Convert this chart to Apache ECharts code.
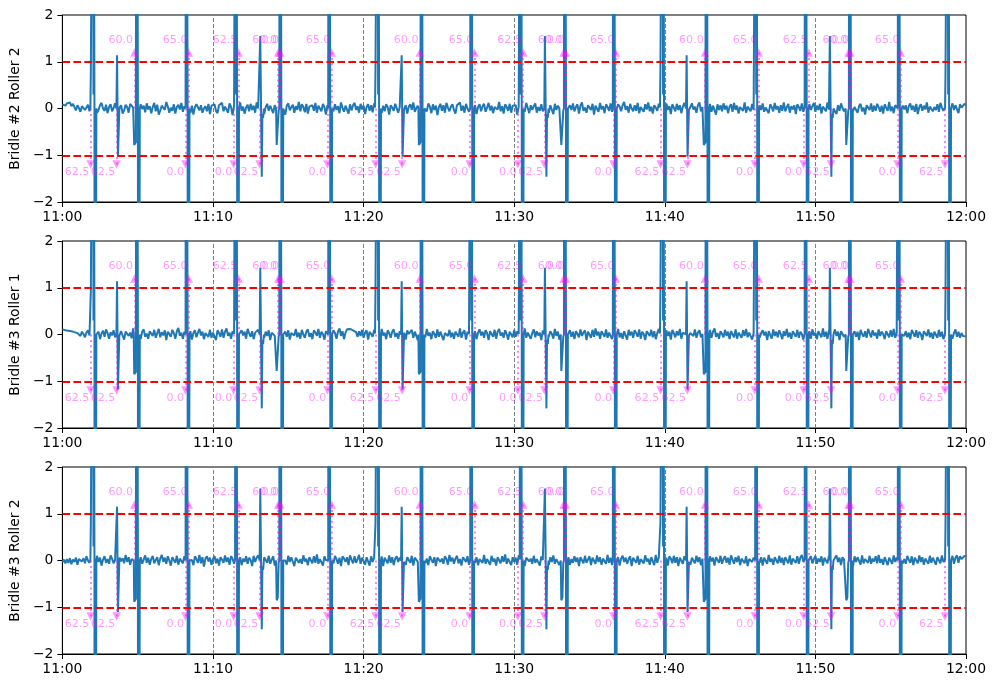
<!DOCTYPE html>
<html>
<head>
<meta charset="utf-8">
<script src="https://cdn.jsdelivr.net/npm/echarts@6/dist/echarts.min.js"></script>
<style>
html,body{margin:0;padding:0;background:#fff;}
#chart{width:996px;height:688px;}
</style>
</head>
<body>
<div id="chart"></div>
<script>
// ---------- DATA ----------
const panelNames = ['Bridle #2 Roller 2', 'Bridle #3 Roller 1', 'Bridle #3 Roller 2'];
const xTickLabels = ['11:00', '11:10', '11:20', '11:30', '11:40', '11:50', '12:00'];
const yTickLabels = ['\u22122', '\u22121', '0', '1', '2'];
const grayLineMinutes = [10, 20, 30, 40, 50];
const limitLines = [1, -1];

// baseline samples every 6 s (minute = index / 10)
const noiseB2R2 = [
.09,.12,.06,.11,.08,.13,.05,.1,.03,-.04,.07,.01,-.07,.05,.09,-.03,.02,.08,-.06,.04,
.1,-.02,.05,-.09,-.03,.07,.12,.0,-.05,.08,-.1,.03,.09,-.06,.01,.11,.04,-.08,.02,.07,
-.11,-.04,.08,.03,-.09,.1,.13,.02,-.06,.05,-.12,-.03,.09,-.01,.06,-.08,.11,-.02,.05,-.1,
.03,.12,-.06,.08,-.13,-.04,.06,.1,-.03,.14,.04,-.09,.02,-.05,.09,-.11,.03,.08,-.02,.12,
-.07,.05,-.03,.11,.01,-.1,.06,-.13,.03,.09,.13,-.04,.07,-.09,.0,.05,-.06,.1,-.12,.06,
.02,.09,-.05,-.1,.07,.03,.12,-.06,.04,-.02,-.09,.11,.03,-.14,.06,.09,-.03,.07,.13,-.05,
.04,-.11,.02,.08,-.06,.1,-.03,.06,-.09,.13,.0,-.07,.09,.04,-.12,.03,.1,-.05,.06,-.02,
-.1,.07,.12,-.03,.05,-.08,.09,.01,-.13,.06,.11,-.04,.03,.08,-.09,.05,-.03,.14,-.06,.09,
.03,-.08,.1,-.11,.04,.0,.07,-.05,.12,-.09,.06,.02,-.06,.1,.03,-.13,.07,-.02,.05,.11,
-.06,.09,-.03,.05,-.1,.13,.02,-.07,.06,.03,-.11,.09,-.04,.07,.12,-.03,.05,-.09,.1,-.02,
.06,-.12,.03,.09,-.05,.07,-.08,.11,.0,-.03,.14,.04,-.1,.06,-.06,.09,.03,-.13,.07,.02,
-.05,.1,.06,-.09,.03,-.02,.12,-.06,.07,-.11,.04,.09,-.03,.13,-.07,.01,.06,-.05,.1,-.12,
.07,.0,-.06,.11,.04,-.1,.09,-.03,.06,-.14,.03,.1,-.05,.07,-.09,.12,.02,-.06,.04,.09,
-.03,-.11,.07,.03,.13,-.05,.06,-.09,.1,.0,-.07,.04,.11,-.03,.07,-.12,.03,.09,-.06,.05,
.1,-.07,.02,.12,-.04,.06,-.1,.03,.07,-.02,.14,-.06,.05,-.11,.09,.03,-.05,.1,-.09,.06,
.02,.07,-.13,.04,.1,-.03,.06,-.07,.12,.01,-.1,.07,-.03,.05,.11,-.09,.03,-.05,.09,-.06,
.12,-.02,.05,-.09,.07,.03,-.12,.1,-.03,.06,.0,-.07,.13,-.05,.09,-.1,.04,.07,-.03,.11,
-.06,.03,.09,-.11,.06,.13,-.05,.02,-.09,.07,.04,-.03,.1,-.13,.06,.03,-.07,.12,-.02,.05,
-.1,.09,.03,-.05,.11,-.07,.06,.01,-.12,.09,.04,-.06,.07,.14,-.03,.05,-.09,.1,.0,-.06,
.07,-.05,.12,-.1,.03,.06,-.07,.09,-.02,.13,-.06,.04,-.11,.07,.02,-.05,.1,-.09,.06,.03,
-.07,.11,-.03,.05,-.12,.09,.02,-.06,.1,-.03,.07,-.1,.04,.12,-.05,.06,-.09,.03,.11,-.02,
.04,-.09,.07,.13,-.06,.03,-.11,.09,.0,-.05,.1,-.07,.06,.03,-.13,.09,-.03,.07,-.06,.11,
-.02,.06,-.1,.04,.09,-.07,.12,-.03,.06,-.11,.03,.07,-.05,.13,-.09,.04,.02,-.06,.1,-.03,
.09,-.12,.04,.07,-.03,.11,-.07,.02,.06,-.1,.09,.03,-.06,.12,-.02,.05,-.09,.07,-.05,.13,
-.06,.03,.1,-.09,.05,-.02,.07,-.12,.09,.03,-.05,.11,-.07,.06,.02,-.1,.09,-.03,.05,.12,
-.07,.06,-.03,.1,-.11,.04,.07,-.06,.13,-.02,.05,-.09,.09,.03,-.12,.07,-.05,.11,.01,-.06,
.09,-.03,.06,-.1,.12,-.05,.03,.07,-.09,.05,.1,-.06,.02,-.13,.07,.04,-.03,.11,-.07,.06,
-.05,.1,.03,-.07,.06,-.11,.09,.02,-.05,.14,-.06,.04,-.1,.07,.03,-.03,.12,-.09,.06,-.02,
.07,-.1,.05,.11,-.03,.06,-.07,.1,-.12,.03,.09,-.05,.06,-.02,.13,-.09,.04,.07,-.06,.03,
-.03,.09,-.07,.12,.02,-.05,.1,-.09,.06,.03,-.06,.11,-.03,.07,.04,-.1,.09,.02,.06,.1,
.07];

const noiseB3R1 = [
.11,.14,.09,.13,.08,.12,.07,.11,.05,.09,.03,.07,-.03,.06,.01,-.06,.04,.09,-.02,.03,
-.07,.05,.1,-.03,.06,-.1,.02,.08,-.05,.11,.03,-.09,.05,-.02,.09,-.06,.12,.0,-.05,.07,
.03,-.11,.06,.09,-.03,.04,-.08,.13,.01,-.06,.07,.03,-.1,.06,.11,-.05,.02,-.09,.07,.04,
-.03,.1,-.07,.03,.12,-.06,.05,-.02,.09,-.12,.06,.01,-.05,.1,.03,-.09,.07,.14,-.03,.04,
-.09,.06,.0,.11,-.05,.07,-.11,.03,.09,-.06,.04,.12,-.02,.06,-.1,.03,.07,-.05,.1,-.07,
.04,.01,-.12,.09,.03,-.05,.11,-.07,.06,.13,-.03,.04,-.09,.07,.01,-.06,.1,-.11,.04,.09,
-.02,.06,-.09,.12,.03,-.05,.07,-.1,.04,.0,.1,-.06,.03,.11,-.07,.06,-.03,.09,-.12,.04,
.07,-.03,.1,-.06,.01,.13,-.09,.04,.06,-.05,.09,-.11,.03,.07,-.02,.12,-.06,.04,-.09,.1,
.0,-.07,.06,.11,-.05,.03,-.1,.09,.04,-.03,.12,-.07,.06,.01,-.11,.07,.04,-.05,.1,-.06,
.09,.03,-.09,.06,.13,-.03,.07,-.1,.04,.11,.15,.12,.16,.09,.13,.05,-.05,.07,-.03,.1,
-.07,.04,.09,-.11,.06,.01,-.05,.1,-.09,.07,.03,-.06,.12,-.02,.04,-.1,.09,.03,-.07,.06,
.11,-.05,.03,-.09,.07,.13,-.06,.04,-.11,.09,.01,-.03,.1,-.07,.06,.03,-.12,.07,.04,-.02,
.09,-.06,.12,-.03,.04,-.1,.07,.01,-.07,.11,-.05,.06,.09,-.12,.03,.07,-.03,.1,-.06,.04,
-.09,.06,.03,-.05,.13,-.07,.04,.09,-.11,.06,.01,-.06,.1,-.03,.07,-.1,.04,.11,-.02,.06,
-.07,.09,.03,-.12,.07,.04,-.05,.1,-.09,.06,.12,-.03,.04,-.07,.09,.01,-.11,.06,.03,-.06,
.1,-.05,.07,.01,-.1,.09,-.03,.13,-.07,.04,.06,-.09,.03,.11,-.06,.07,-.02,.04,-.12,.09,
.03,-.06,.1,-.05,.07,.01,-.09,.12,-.03,.06,-.11,.07,.04,-.02,.1,-.07,.03,.09,-.05,.06,
-.1,.07,.01,-.06,.11,-.03,.04,.09,-.12,.06,.03,-.07,.1,-.05,.13,-.02,.06,-.09,.07,.03,
-.05,.11,-.07,.04,.01,-.1,.09,-.03,.06,.12,-.06,.03,-.09,.07,.04,-.11,.1,-.02,.06,-.07,
.09,.03,-.05,.11,-.09,.06,.01,-.12,.07,.04,-.03,.1,-.06,.07,-.1,.03,.12,-.05,.06,.01,
-.07,.09,-.03,.06,-.11,.1,.03,-.06,.07,-.02,.12,-.09,.04,.07,-.05,.09,-.1,.03,.06,-.03,
.11,-.07,.04,.09,-.06,.01,-.12,.07,.04,-.03,.1,-.07,.06,.13,-.05,.03,-.09,.07,.01,-.06,
.1,-.03,.06,-.1,.07,.03,-.06,.11,-.09,.04,.01,-.07,.09,-.03,.12,-.06,.04,.07,-.11,.03,
.06,-.05,.1,-.07,.03,.09,-.02,.06,-.12,.07,.04,-.09,.11,-.03,.06,-.06,.09,.01,-.1,.07,
-.03,.12,-.06,.04,-.09,.07,.03,-.05,.1,-.07,.06,.01,-.11,.09,.04,-.03,.07,-.09,.11,-.02,
.04,-.1,.07,.03,-.06,.13,-.05,.06,-.09,.09,.01,-.07,.04,.11,-.03,.06,-.12,.07,.03,-.05,
.09,-.06,.03,.1,-.09,.04,.07,-.05,.06,-.12,.1,.01,-.05,.07,-.07,.12,.03,-.06,.09,-.02,
.04,-.09,.11,-.03,.06,.01,-.1,.07,.04,-.06,.09,-.05,.12,-.07,.03,.06,-.11,.09,.01,-.03,
.07,-.06,.04,-.1,.1,.03,-.05,.09,-.07,.06,.01,-.12,.07,.04,-.03,.11,-.06,.04,-.09,.06,
.03,-.07,.1,-.05,.06,-.1,.09,.01,-.06,.07,.04,-.09,.03,.11,-.05,.06,-.07,.03,-.03,-.06,
-.04];

const noiseB3R2 = [
-.03,.02,-.06,.03,-.05,.05,-.08,.02,-.03,.06,-.09,.03,.07,-.02,.05,-.06,.09,.0,-.05,.03,
.07,-.09,.05,.1,-.03,.06,-.11,.02,.09,-.05,.03,-.07,.11,.04,-.06,.01,.09,-.1,.06,-.02,
.05,-.06,.12,-.03,.07,-.09,.03,.06,-.12,.04,.09,-.03,.07,-.07,.02,.11,-.05,.06,-.09,.03,
.1,-.06,.01,.07,-.1,.04,.12,-.03,.06,-.07,.09,.0,-.11,.07,.03,-.05,.1,-.09,.04,.02,
-.06,.09,-.03,.11,-.07,.04,.01,-.1,.09,.03,-.05,.12,-.06,.07,-.13,.04,.09,-.02,.06,-.09,
.03,.1,-.06,.04,-.11,.07,.02,-.05,.11,-.03,.06,-.09,.09,.04,-.07,.03,.12,-.05,.07,-.1,
.04,-.03,.09,-.07,.06,.01,-.12,.1,-.03,.06,.11,-.06,.03,-.09,.07,.04,-.05,.1,-.07,.02,
.09,-.11,.06,.03,-.05,.12,-.07,.04,.0,-.09,.1,-.03,.07,.04,-.12,.06,.09,-.05,.03,-.07,
.11,-.02,.04,-.1,.07,.03,-.06,.09,-.05,.13,-.07,.03,.06,-.11,.09,.01,-.03,.07,-.09,.04,
-.06,.1,.03,-.07,.06,-.12,.09,.04,-.03,.07,-.1,.11,.02,-.06,.09,-.05,.03,.12,-.07,.06,
.03,-.09,.07,.04,-.11,.09,-.03,.06,.1,-.07,.04,-.02,.09,-.12,.06,.03,-.06,.11,-.05,.07,
-.1,.04,.09,-.03,.06,-.07,.12,.01,-.09,.07,.03,-.05,.1,-.11,.06,.04,-.03,.09,-.07,.03,
.11,-.06,.04,-.1,.09,.02,-.05,.07,-.12,.06,.1,-.03,.04,-.07,.09,.03,-.09,.12,-.02,.06,
-.07,.04,.1,-.06,.03,-.11,.07,.04,-.03,.09,-.09,.06,.01,.11,-.05,.07,-.1,.03,.06,-.05,
.12,-.07,.03,.06,-.09,.1,-.02,.04,-.11,.07,.03,-.06,.09,-.03,.13,-.07,.04,.02,-.1,.07,
-.03,.06,-.09,.11,.03,-.05,.07,-.12,.06,.09,-.02,.04,-.07,.1,-.05,.03,.07,-.11,.09,.01,
-.06,.1,.04,-.09,.07,-.03,.11,-.07,.03,.06,-.1,.09,-.02,.04,.12,-.06,.07,-.09,.03,-.05,
.09,-.03,.06,-.12,.07,.04,-.06,.1,-.05,.02,.09,-.1,.06,.03,-.07,.11,-.03,.07,-.09,.04,
.02,-.07,.12,-.05,.06,-.1,.09,.03,-.06,.07,-.11,.04,.1,-.03,.06,-.07,.03,.09,-.12,.06,
.04,-.05,.1,-.09,.03,.07,-.06,.11,-.02,.04,-.09,.07,.03,-.1,.12,-.05,.06,.01,-.07,.09,
-.03,.06,-.11,.09,.04,-.06,.1,-.05,.07,-.12,.06,.03,-.07,.09,.02,-.05,.11,-.09,.06,.03,
-.06,.1,-.03,.07,-.1,.04,.12,-.06,.03,-.07,.09,-.02,.06,-.11,.07,.04,-.05,.1,-.07,.03,
.09,-.05,.06,-.09,.11,.02,-.07,.07,-.03,.1,-.1,.04,.06,-.06,.09,-.12,.03,.07,-.03,.06,
-.09,.04,.1,-.05,.07,-.11,.06,.02,-.07,.12,-.03,.04,-.09,.07,.03,-.06,.1,-.05,.06,-.1,
.07,.03,-.06,.11,-.09,.04,.01,-.05,.09,-.07,.06,.12,-.03,.04,-.1,.07,-.02,.09,-.06,.03,
.1,-.07,.04,-.03,.09,-.11,.06,.03,-.06,.1,-.05,.07,-.09,.04,.11,-.03,.06,-.1,.07,.02,
-.05,.09,-.07,.06,.03,-.12,.09,-.03,.07,.04,-.09,.11,-.06,.03,.07,-.05,.1,-.07,.04,-.02,
.09,-.06,.12,-.05,.03,-.09,.07,.04,-.1,.06,.02,-.07,.11,-.03,.06,-.09,.04,.09,-.06,.03,
-.07,.1,.02,-.05,.09,-.1,.06,.03,-.06,.11,-.03,.07,-.09,.04,.02,-.07,.1,-.05,.06,.03,
-.09,.07,.04,-.06,.11,-.03,.06,-.07,.09,.01,-.05,.1,-.07,.06,.11,-.05,.09,.03,.07,.1,
.08];

// spike episodes: sample times (minutes after 11:00) and their kind (0=A .. 7=H)
const spikeTimes = [
[1.86,1.89,1.995,2.017,2.065,2.077,2.13,2.142,2.195,2.207,2.255],
[3.59,3.63,3.69,3.73,3.78],
[4.74,4.77,4.88,4.902,4.95,4.962,5.015,5.027,5.08,5.092,5.14],
[8.18,8.202,8.25,8.262,8.315,8.327,8.38,8.392,8.44],
[11.467,11.489,11.537,11.549,11.602,11.614,11.667,11.679,11.727],
[13.10,13.14,13.18,13.24,13.28,13.33,13.38],
[14.19,14.23,14.3,14.36,14.404,14.426,14.474,14.486,14.539,14.551,14.604,14.616,14.664],
[17.65,17.672,17.72,17.732,17.785,17.797,17.85,17.862,17.91],
[20.76,20.79,20.895,20.917,20.965,20.977,21.03,21.042,21.095,21.107,21.155],
[22.49,22.53,22.59,22.63,22.68],
[23.64,23.67,23.78,23.802,23.85,23.862,23.915,23.927,23.98,23.992,24.04],
[27.08,27.102,27.15,27.162,27.215,27.227,27.28,27.292,27.34],
[30.367,30.389,30.437,30.449,30.502,30.514,30.567,30.579,30.627],
[32.0,32.04,32.08,32.14,32.18,32.23,32.28],
[33.09,33.13,33.2,33.26,33.304,33.326,33.374,33.386,33.439,33.451,33.504,33.516,33.564],
[36.55,36.572,36.62,36.632,36.685,36.697,36.75,36.762,36.81],
[39.68,39.71,39.815,39.837,39.885,39.897,39.95,39.962,40.015,40.027,40.075],
[41.41,41.45,41.51,41.55,41.6],
[42.56,42.59,42.7,42.722,42.77,42.782,42.835,42.847,42.9,42.912,42.96],
[46.0,46.022,46.07,46.082,46.135,46.147,46.2,46.212,46.26],
[49.287,49.309,49.357,49.369,49.422,49.434,49.487,49.499,49.547],
[50.92,50.96,51.0,51.06,51.1,51.15,51.2],
[52.01,52.05,52.12,52.18,52.224,52.246,52.294,52.306,52.359,52.371,52.424,52.436,52.484],
[55.47,55.492,55.54,55.552,55.605,55.617,55.67,55.682,55.73],
[58.61,58.64,58.745,58.767,58.815,58.827,58.88,58.892,58.945,58.957,59.005]
];
const spikeKind = [0,1,2,3,4,5,6,7, 0,1,2,3,4,5,6,7, 0,1,2,3,4,5,6,7, 0];

const spikeValsB2R2 = [
[0.02,0.82,0.78,8,0.3,8,0,-8,-0.3,-8,0],
[0.0,1.14,-1.03,-1.07,-0.03],
[0.0,-0.78,-0.72,8,0.3,8,0,-8,-0.3,-8,0],
[0.0,8,0.3,8,0,-8,-0.3,-8,0],
[0.02,8,0.3,8,0,-8,-0.3,-8,0],
[0.0,1.55,1.52,-1.46,-0.12,-0.2,0.0],
[0.0,-0.78,-0.74,-0.05,0,8,0.3,8,0,-8,-0.3,-8,0],
[0.0,8,0.3,8,0,-8,-0.3,-8,0]
];
const spikeValsB3R1 = [
[0.02,0.93,0.9,8,0.3,8,0,-8,-0.3,-8,0],
[0.0,1.14,-1.17,-1.21,-0.03],
[0.0,-0.85,-0.8,8,0.3,8,0,-8,-0.3,-8,0],
[0.0,8,0.3,8,0,-8,-0.3,-8,0],
[0.02,8,0.3,8,0,-8,-0.3,-8,0],
[0.0,1.43,1.4,-1.58,-0.12,-0.2,0.0],
[0.0,-0.78,-0.74,-0.05,0,8,0.3,8,0,-8,-0.3,-8,0],
[0.0,8,0.3,8,0,-8,-0.3,-8,0]
];
const spikeValsB3R2 = [
[0.02,0.79,0.75,8,0.3,8,0,-8,-0.3,-8,0],
[0.0,1.15,-1.1,-1.13,-0.03],
[0.0,-0.88,-0.82,8,0.3,8,0,-8,-0.3,-8,0],
[0.0,8,0.3,8,0,-8,-0.3,-8,0],
[0.02,8,0.3,8,0,-8,-0.3,-8,0],
[0.0,1.54,1.5,-1.47,-0.12,-0.2,0.0],
[0.0,-0.85,-0.8,-0.05,0,8,0.3,8,0,-8,-0.3,-8,0],
[0.0,8,0.3,8,0,-8,-0.3,-8,0]
];

// setpoint events (minutes after 11:00, label)
const upEventTimes  = [4.78, 8.39, 11.7, 14.33, 14.47, 17.88, 23.73, 27.37, 30.6, 33.28, 33.42, 36.75, 42.67, 46.24, 49.56, 52.2, 52.32, 55.67];
const upEventLabels = ['60.0','65.0','62.5','60.0','0.0','65.0','60.0','65.0','62.5','60.0','0.0','65.0','60.0','65.0','62.5','60.0','0.0','65.0'];
const downEventTimes  = [1.875, 3.6, 8.17, 11.37, 13.09, 17.6, 20.8, 22.56, 27.04, 30.24, 32.0, 36.58, 39.72, 41.5, 45.98, 49.22, 51.04, 55.45, 58.6];
const downEventLabels = ['62.5','62.5','0.0','0.0','62.5','0.0','62.5','62.5','0.0','0.0','62.5','0.0','62.5','62.5','0.0','0.0','62.5','0.0','62.5'];
const markerLevel = 1.2;

// ---------- BUILD ----------
const noiseStepMin = 0.1;
const panelNoise = [noiseB2R2, noiseB3R1, noiseB3R2];
const panelSpikes = [spikeValsB2R2, spikeValsB3R1, spikeValsB3R2];

function buildLine(noise, shapes) {
  const windows = spikeTimes.map(ts => [ts[0], ts[ts.length - 1]]);
  const pts = [];
  noise.forEach((v, i) => {
    const t = i * noiseStepMin;
    if (!windows.some(w => t >= w[0] - 0.01 && t <= w[1] + 0.01)) pts.push([t, v]);
  });
  spikeTimes.forEach((ts, g) => {
    const vals = shapes[spikeKind[g]];
    ts.forEach((t, k) => pts.push([t, vals[k]]));
  });
  pts.sort((a, b) => a[0] - b[0]);
  return pts;
}

const FONT = 'DejaVu Sans';
const PINK = 'rgba(255,0,255,0.5)';
const tops = [15, 241, 467];
const grids = [], xAxes = [], yAxes = [], series = [];

tops.forEach((top, p) => {
  grids.push({left: 60, top: top, width: 906, height: 187, show: true,
    borderColor: '#000', borderWidth: 1, backgroundColor: 'transparent'});
  xAxes.push({
    type: 'value', gridIndex: p, min: 0, max: 60, interval: 10,
    axisLine: {show: true, onZero: false, lineStyle: {color: '#000', width: 1}},
    axisTick: {show: true, inside: false, length: 5, lineStyle: {color: '#000', width: 1}},
    axisLabel: {show: true, margin: 8, color: '#000', fontFamily: FONT, fontSize: 13.9,
      showMinLabel: true, showMaxLabel: true,
      formatter: v => xTickLabels[Math.round(v / 10)]},
    splitLine: {show: false}
  });
  yAxes.push({
    type: 'value', gridIndex: p, min: -2, max: 2, interval: 1,
    name: panelNames[p], nameLocation: 'middle', nameGap: 35,
    nameTextStyle: {color: '#000', fontFamily: FONT, fontSize: 13.9},
    axisLine: {show: true, lineStyle: {color: '#000', width: 1}},
    axisTick: {show: true, inside: false, length: 5, lineStyle: {color: '#000', width: 1}},
    axisLabel: {show: true, margin: 9, color: '#000', fontFamily: FONT, fontSize: 13.9,
      formatter: v => yTickLabels[Math.round(v + 2)]},
    splitLine: {show: false}
  });

  series.push({
    type: 'line', xAxisIndex: p, yAxisIndex: p, z: 2,
    data: buildLine(panelNoise[p], panelSpikes[p]),
    showSymbol: false, symbol: 'none', clip: true, sampling: 'none',
    lineStyle: {color: '#1f77b4', width: 2},
    silent: true, animation: false,
    markLine: {
      z: 1, silent: true, symbol: ['none', 'none'], label: {show: false}, animation: false,
      lineStyle: {color: '#808080', width: 1, type: [4, 2]},
      emphasis: {disabled: true},
      data: grayLineMinutes.map(m => ({xAxis: m}))
    }
  });

  series.push({
    type: 'scatter', xAxisIndex: p, yAxisIndex: p, z: 3,
    symbol: 'triangle', symbolSize: 8.5, silent: true, animation: false,
    itemStyle: {color: PINK},
    data: upEventTimes.map((t, i) => ({value: [t, markerLevel], name: upEventLabels[i]})),
    label: {show: true, formatter: '{b}', position: [3, -8], align: 'right', verticalAlign: 'middle',
      color: PINK, fontFamily: FONT, fontSize: 11.1},
    markLine: {
      silent: true, symbol: ['none', 'none'], label: {show: false}, animation: false,
      lineStyle: {color: PINK, width: 2, type: [2, 3.4]},
      emphasis: {disabled: true},
      data: upEventTimes.map(t => [{coord: [t, 0]}, {coord: [t, markerLevel]}])
    }
  });
  series.push({
    type: 'scatter', xAxisIndex: p, yAxisIndex: p, z: 3,
    symbol: 'triangle', symbolRotate: 180, symbolSize: 8.5, silent: true, animation: false,
    itemStyle: {color: PINK},
    data: downEventTimes.map((t, i) => ({value: [t, -markerLevel], name: downEventLabels[i]})),
    label: {show: true, formatter: '{b}', position: [3, 12], align: 'right', verticalAlign: 'middle',
      color: PINK, fontFamily: FONT, fontSize: 11.1},
    markLine: {
      silent: true, symbol: ['none', 'none'], label: {show: false}, animation: false,
      lineStyle: {color: PINK, width: 2, type: [2, 3.4]},
      emphasis: {disabled: true},
      data: downEventTimes.map(t => [{coord: [t, 0]}, {coord: [t, -markerLevel]}])
    }
  });
  series.push({
    type: 'line', xAxisIndex: p, yAxisIndex: p, z: 4, data: [],
    silent: true, animation: false,
    markLine: {
      silent: true, symbol: ['none', 'none'], label: {show: false}, animation: false,
      lineStyle: {color: '#ff0000', width: 2, type: [7.7, 3.3]},
      emphasis: {disabled: true},
      data: limitLines.map(v => ({yAxis: v}))
    }
  });
});

const chart = echarts.init(document.getElementById('chart'), null, {renderer: 'canvas'});
chart.setOption({
  animation: false,
  backgroundColor: '#fff',
  grid: grids, xAxis: xAxes, yAxis: yAxes, series: series
});
</script>
</body>
</html>
